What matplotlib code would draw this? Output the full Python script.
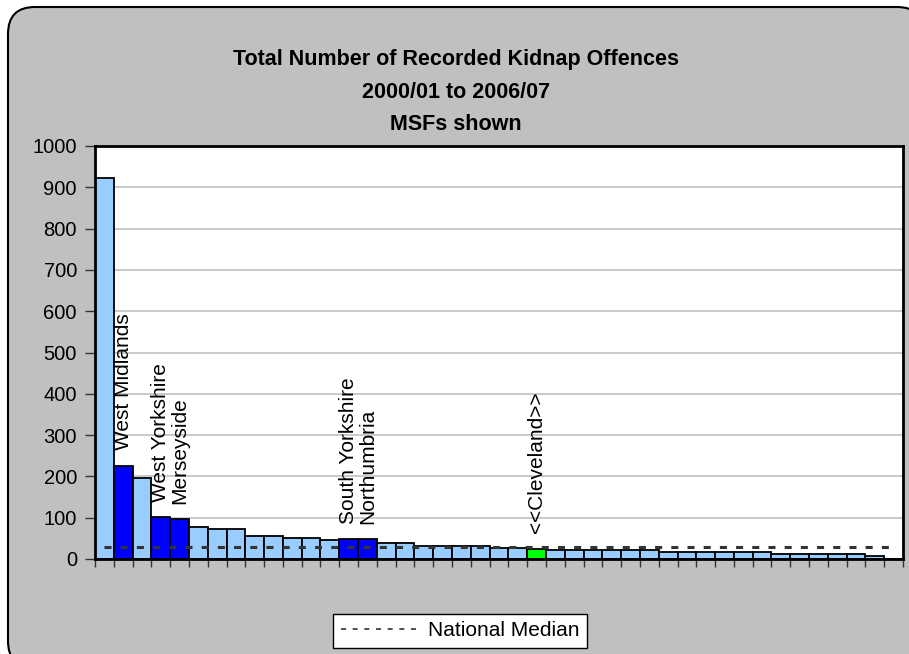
import numpy as np
import matplotlib
matplotlib.use('Agg')
import matplotlib.pyplot as plt
from matplotlib.patches import FancyBboxPatch
from matplotlib.lines import Line2D
from matplotlib.transforms import IdentityTransform

# forces ranked by total kidnap offences (only the MSFs are named on the chart)
values = [922, 226, 197, 101, 97, 77, 72, 72, 56, 56, 52, 52, 47, 48, 48,
          38, 38, 32, 32, 32, 32, 27, 27, 25, 22, 22, 22, 22, 22, 22,
          16, 16, 16, 16, 16, 16, 12, 12, 12, 12, 12, 7, 0]
bar_labels = [''] * len(values)
bar_labels[1] = 'West Midlands'
bar_labels[3] = 'West Yorkshire'
bar_labels[4] = 'Merseyside'
bar_labels[13] = 'South Yorkshire'
bar_labels[14] = 'Northumbria'
bar_labels[23] = '<<Cleveland>>'
home_force = '<<Cleveland>>'
national_median = 28.5

title_lines = ['Total Number of Recorded Kidnap Offences', '2000/01 to 2006/07', 'MSFs shown']
y_ticks = list(range(0, 1001, 100))

FONT = ['Liberation Sans', 'Arial', 'DejaVu Sans']
plt.rcParams['font.family'] = FONT

fig = plt.figure(figsize=(9.09, 6.54), dpi=100)
fig.patch.set_facecolor('white')

# grey rounded chart area behind everything (pixel coords)
bg = FancyBboxPatch((8, -14), 916, 668 - 7, boxstyle='round,pad=0,rounding_size=27',
                    transform=IdentityTransform(), facecolor='#C0C0C0',
                    edgecolor='black', linewidth=1.5, zorder=-1)
fig.add_artist(bg)

ax = fig.add_axes([95 / 909, 1 - 559 / 654, 808 / 909, 413 / 654])
ax.set_facecolor('white')

# colour the bars: MSFs dark blue, home force green, rest light blue
colors = []
for lab in bar_labels:
    if lab == home_force:
        colors.append('#00FF00')
    elif lab:
        colors.append('#0000FF')
    else:
        colors.append('#99CCFF')

x = np.arange(len(values))
ax.bar(x, values, width=1.0, color=colors, edgecolor='black', linewidth=1.3, zorder=2)

# national median as a dashed line across all the forces
ax.plot(x, np.full(len(values), national_median), color='#333333', linewidth=2.2,
        dashes=(2.3, 3.0), zorder=3)

for i, lab in enumerate(bar_labels):
    if lab:
        ax.annotate(lab, (x[i], values[i]), xytext=(0, 11), textcoords='offset points',
                    rotation=90, ha='center', va='bottom', fontsize=15)

ax.set_xlim(-0.5, len(values) - 0.5)
ax.set_ylim(0, 1000)
ax.set_yticks(y_ticks)
ax.set_yticklabels([str(t) for t in y_ticks], fontsize=14.5)
ax.set_xticks(np.arange(len(values) + 1) - 0.5)
ax.set_xticklabels([])
ax.tick_params(axis='y', direction='out', length=7, width=1, pad=6, color='#333333')
ax.tick_params(axis='x', direction='out', length=6, width=1, color='#333333')
ax.yaxis.grid(True, color='#C0C0C0', linewidth=1.2, zorder=0)
ax.set_axisbelow(True)
for s in ax.spines.values():
    s.set_linewidth(2)
    s.set_color('black')

# three line title
for line, ypix in zip(title_lines, [60, 92, 124]):
    fig.text(456 / 909, 1 - ypix / 654, line, ha='center', va='center',
             fontsize=15.5, fontweight='bold')

handle = Line2D([], [], color='#333333', linewidth=1.2, dashes=(3, 4))
leg = fig.legend([handle], ['National Median'], loc='center',
                 bbox_to_anchor=(460 / 909, 1 - 631 / 654), fontsize=15,
                 frameon=True, fancybox=False, handlelength=3.7, borderpad=0.35,
                 handletextpad=0.5, borderaxespad=0)
leg.get_frame().set_edgecolor('black')
leg.get_frame().set_linewidth(1)
leg.get_frame().set_facecolor('white')
leg.get_frame().set_alpha(1)

fig.savefig('out.png', dpi=100)
